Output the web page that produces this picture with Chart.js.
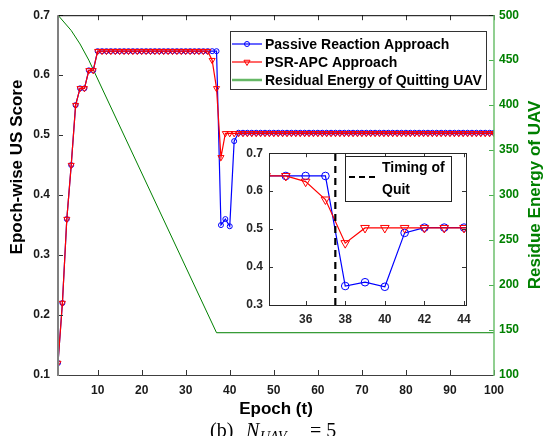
<!DOCTYPE html>
<html>
<head>
<meta charset="utf-8">
<script src="https://cdn.jsdelivr.net/npm/chart.js@4.4.1/dist/chart.umd.min.js"></script>
<style>
  html, body { margin: 0; padding: 0; background: #fff; }
  #wrap { position: relative; width: 544px; height: 436px; overflow: hidden; }
  #main { position: absolute; left: 0; top: 0; }
  #inset { position: absolute; left: 230px; top: 140px; }
</style>
</head>
<body>
<div id="wrap">
  <canvas id="main" width="544" height="436" style="width:544px;height:436px"></canvas>
  <canvas id="inset" width="250" height="190" style="width:250px;height:190px"></canvas>
</div>
<script>
// epochs and scores
const epochs = [
  1, 2, 3, 4, 5, 6, 7, 8, 9, 10,
  11, 12, 13, 14, 15, 16, 17, 18, 19, 20,
  21, 22, 23, 24, 25, 26, 27, 28, 29, 30,
  31, 32, 33, 34, 35, 36, 37, 38, 39, 40,
  41, 42, 43, 44, 45, 46, 47, 48, 49, 50,
  51, 52, 53, 54, 55, 56, 57, 58, 59, 60,
  61, 62, 63, 64, 65, 66, 67, 68, 69, 70,
  71, 72, 73, 74, 75, 76, 77, 78, 79, 80,
  81, 82, 83, 84, 85, 86, 87, 88, 89, 90,
  91, 92, 93, 94, 95, 96, 97, 98, 99, 100
];
const passive = [
  0.12, 0.22, 0.36, 0.45, 0.55, 0.578, 0.578, 0.608, 0.608, 0.64,
  0.64, 0.64, 0.64, 0.64, 0.64, 0.64, 0.64, 0.64, 0.64, 0.64,
  0.64, 0.64, 0.64, 0.64, 0.64, 0.64, 0.64, 0.64, 0.64, 0.64,
  0.64, 0.64, 0.64, 0.64, 0.64, 0.64, 0.64, 0.35, 0.36, 0.348,
  0.49, 0.504, 0.504, 0.504, 0.504, 0.504, 0.504, 0.504, 0.504, 0.504,
  0.504, 0.504, 0.504, 0.504, 0.504, 0.504, 0.504, 0.504, 0.504, 0.504,
  0.504, 0.504, 0.504, 0.504, 0.504, 0.504, 0.504, 0.504, 0.504, 0.504,
  0.504, 0.504, 0.504, 0.504, 0.504, 0.504, 0.504, 0.504, 0.504, 0.504,
  0.504, 0.504, 0.504, 0.504, 0.504, 0.504, 0.504, 0.504, 0.504, 0.504,
  0.504, 0.504, 0.504, 0.504, 0.504, 0.504, 0.504, 0.504, 0.504, 0.504
];
const psrApc = [
  0.12, 0.22, 0.36, 0.45, 0.55, 0.578, 0.578, 0.608, 0.608, 0.64,
  0.64, 0.64, 0.64, 0.64, 0.64, 0.64, 0.64, 0.64, 0.64, 0.64,
  0.64, 0.64, 0.64, 0.64, 0.64, 0.64, 0.64, 0.64, 0.64, 0.64,
  0.64, 0.64, 0.64, 0.64, 0.64, 0.625, 0.578, 0.463, 0.503, 0.503,
  0.503, 0.503, 0.503, 0.503, 0.503, 0.503, 0.503, 0.503, 0.503, 0.503,
  0.503, 0.503, 0.503, 0.503, 0.503, 0.503, 0.503, 0.503, 0.503, 0.503,
  0.503, 0.503, 0.503, 0.503, 0.503, 0.503, 0.503, 0.503, 0.503, 0.503,
  0.503, 0.503, 0.503, 0.503, 0.503, 0.503, 0.503, 0.503, 0.503, 0.503,
  0.503, 0.503, 0.503, 0.503, 0.503, 0.503, 0.503, 0.503, 0.503, 0.503,
  0.503, 0.503, 0.503, 0.503, 0.503, 0.503, 0.503, 0.503, 0.503, 0.503
];
// residual energy (breakpoints of the green line)
const energyEpochs = [1, 4, 6, 8, 37, 100];
const energyValues = [500, 483, 468, 450, 147, 147];
const quitEpoch = 37.5;

const xTicks = [10, 20, 30, 40, 50, 60, 70, 80, 90, 100];
const yTicks = [0.1, 0.2, 0.3, 0.4, 0.5, 0.6, 0.7];
const y2Ticks = [100, 150, 200, 250, 300, 350, 400, 450, 500];
const insetXTicks = [36, 38, 40, 42, 44];
const insetYTicks = [0.3, 0.4, 0.5, 0.6, 0.7];

const labels = ['Passive Reaction Approach', 'PSR-APC Approach', 'Residual Energy of Quitting UAV'];

Chart.defaults.font.family = "'Liberation Sans', Arial, sans-serif";
Chart.defaults.font.weight = 'bold';
Chart.defaults.font.size = 12;
Chart.defaults.color = '#1a1a1a';

const BLUE = '#0000ff', RED = '#ff0000', GREEN = '#008000';
const FONT = "bold 14px 'Liberation Sans', Arial, sans-serif";
const TITLE_FONT = "bold 17px 'Liberation Sans', Arial, sans-serif";

function pts(arr) {
  return arr.map((v, i) => ({ x: epochs[i], y: v }));
}
const energyPts = energyValues.map((v, i) => ({ x: energyEpochs[i], y: v }));

function setTicks(list) {
  return s => { s.ticks = list.map(v => ({ value: v })); };
}

function drawMarker(ctx, kind, x, y, r, color) {
  ctx.save();
  ctx.strokeStyle = color;
  ctx.lineWidth = 1;
  ctx.beginPath();
  if (kind === 'circle') {
    ctx.arc(x, y, r, 0, Math.PI * 2);
  } else {
    ctx.moveTo(x - r * 0.87, y - r * 0.5);
    ctx.lineTo(x + r * 0.87, y - r * 0.5);
    ctx.lineTo(x, y + r);
    ctx.closePath();
  }
  ctx.stroke();
  ctx.restore();
}

// inward ticks, axis lines, titles, legend, caption
const mainDecor = {
  id: 'mainDecor',
  afterDraw(chart) {
    const { ctx, chartArea: a, scales } = chart;
    const tl = 5;
    ctx.save();
    // x ticks (bottom and top)
    ctx.strokeStyle = '#333';
    ctx.lineWidth = 1;
    xTicks.forEach(v => {
      const px = Math.round(scales.x.getPixelForValue(v)) + 0.5;
      ctx.beginPath();
      ctx.moveTo(px, a.bottom); ctx.lineTo(px, a.bottom - tl);
      ctx.moveTo(px, a.top); ctx.lineTo(px, a.top + tl);
      ctx.stroke();
    });
    yTicks.forEach(v => {
      const py = Math.round(scales.y.getPixelForValue(v)) + 0.5;
      ctx.beginPath();
      ctx.moveTo(a.left, py); ctx.lineTo(a.left + tl, py);
      ctx.stroke();
    });
    ctx.strokeStyle = '#4caf50';
    y2Ticks.forEach(v => {
      const py = Math.round(scales.y2.getPixelForValue(v)) + 0.5;
      ctx.beginPath();
      ctx.moveTo(a.right, py); ctx.lineTo(a.right - tl, py);
      ctx.stroke();
    });
    // axis lines
    ctx.strokeStyle = '#000';
    ctx.lineWidth = 1;
    ctx.beginPath(); ctx.moveTo(a.left, a.top + 0.5); ctx.lineTo(a.right, a.top + 0.5); ctx.stroke();
    ctx.strokeStyle = '#404040';
    ctx.beginPath(); ctx.moveTo(a.left, a.bottom + 0.5); ctx.lineTo(a.right, a.bottom + 0.5); ctx.stroke();
    ctx.strokeStyle = '#808080';
    ctx.lineWidth = 2;
    ctx.beginPath(); ctx.moveTo(a.left, a.top); ctx.lineTo(a.left, a.bottom + 1); ctx.stroke();
    ctx.strokeStyle = '#6cbf6c';
    ctx.lineWidth = 1.5;
    ctx.beginPath(); ctx.moveTo(a.right, a.top); ctx.lineTo(a.right, a.bottom + 1); ctx.stroke();

    // axis titles
    ctx.font = TITLE_FONT;
    ctx.textAlign = 'center';
    ctx.textBaseline = 'middle';
    ctx.fillStyle = '#000';
    ctx.fillText('Epoch (t)', (a.left + a.right) / 2, 409);
    ctx.save();
    ctx.translate(17, 167);
    ctx.rotate(-Math.PI / 2);
    ctx.fillText('Epoch-wise US Score', 0, 0);
    ctx.restore();
    ctx.save();
    ctx.fillStyle = GREEN;
    ctx.translate(535, 195);
    ctx.rotate(-Math.PI / 2);
    ctx.fillText('Residue Energy of UAV', 0, 0);
    ctx.restore();

    // legend
    const lx = 230, ly = 31, lw = 256, lh = 58;
    ctx.fillStyle = '#fff';
    ctx.fillRect(lx, ly, lw, lh);
    ctx.strokeStyle = '#333';
    ctx.lineWidth = 1;
    ctx.strokeRect(lx + 0.5, ly + 0.5, lw, lh);
    const rows = [44, 62, 80];
    const cols = [BLUE, RED, '#66b866'];
    rows.forEach((ry, i) => {
      ctx.strokeStyle = cols[i];
      ctx.lineWidth = i === 2 ? 2.5 : 1.2;
      ctx.beginPath(); ctx.moveTo(232, ry); ctx.lineTo(262, ry); ctx.stroke();
      if (i === 0) drawMarker(ctx, 'circle', 247, ry, 2.5, BLUE);
      if (i === 1) drawMarker(ctx, 'tri', 247, ry, 3.5, RED);
      ctx.fillStyle = '#000';
      ctx.font = FONT;
      ctx.textAlign = 'left';
      ctx.textBaseline = 'middle';
      ctx.fillText(labels[i], 265, ry + 1);
    });

    // caption
    ctx.fillStyle = '#000';
    ctx.textAlign = 'left';
    ctx.textBaseline = 'alphabetic';
    ctx.font = "20px 'Liberation Serif', 'Times New Roman', serif";
    ctx.fillText('(b)', 210, 437);
    ctx.font = "italic 20px 'Liberation Serif', 'Times New Roman', serif";
    ctx.fillText('N', 246, 437);
    ctx.font = "italic 14px 'Liberation Serif', 'Times New Roman', serif";
    ctx.fillText('UAV', 260, 441);
    ctx.font = "20px 'Liberation Serif', 'Times New Roman', serif";
    ctx.fillText('= 5', 310, 437);
    ctx.restore();
  }
};

new Chart(document.getElementById('main'), {
  type: 'line',
  data: {
    datasets: [
      {
        label: labels[0], data: pts(passive), yAxisID: 'y',
        borderColor: BLUE, borderWidth: 1.2, tension: 0,
        pointStyle: 'circle', pointRadius: 2.5, pointBorderWidth: 1,
        pointBorderColor: BLUE, pointBackgroundColor: 'rgba(255,255,255,0)', order: 2
      },
      {
        label: labels[1], data: pts(psrApc), yAxisID: 'y',
        borderColor: RED, borderWidth: 1.2, tension: 0,
        pointStyle: 'triangle', pointRotation: 180, pointRadius: 3.5, pointBorderWidth: 1,
        pointBorderColor: RED, pointBackgroundColor: 'rgba(255,255,255,0)', order: 1
      },
      {
        label: labels[2], data: energyPts, yAxisID: 'y2',
        borderColor: GREEN, borderWidth: 1, pointRadius: 0, tension: 0, order: 3
      }
    ]
  },
  options: {
    responsive: false,
    animation: false,
    devicePixelRatio: 1,
    layout: { padding: { top: 14, left: 0, right: 0, bottom: 0 } },
    plugins: { legend: { display: false }, tooltip: { enabled: false } },
    scales: {
      x: {
        type: 'linear', min: 1, max: 100,
        afterBuildTicks: setTicks(xTicks),
        afterFit: s => { s.height = 61; },
        grid: { display: false, drawTicks: false },
        border: { display: false },
        ticks: { padding: 8, color: '#1a1a1a', font: { size: 12, weight: 'bold' } }
      },
      y: {
        position: 'left', min: 0.1, max: 0.7,
        afterBuildTicks: setTicks(yTicks),
        afterFit: s => { s.width = 58; },
        grid: { display: false, drawTicks: false },
        border: { display: false },
        ticks: { padding: 8, color: '#1a1a1a', callback: v => v.toFixed(1) }
      },
      y2: {
        position: 'right', min: 100, max: 500,
        afterBuildTicks: setTicks(y2Ticks),
        afterFit: s => { s.width = 50; },
        grid: { display: false, drawTicks: false },
        border: { display: false },
        ticks: { padding: 5, color: GREEN }
      }
    }
  },
  plugins: [mainDecor]
});

// ---- inset ----
const OX = 230, OY = 140;
const insetDecor = {
  id: 'insetDecor',
  beforeDatasetsDraw(chart) {
    const { ctx, chartArea: a } = chart;
    ctx.save();
    ctx.fillStyle = '#fff';
    ctx.fillRect(a.left, a.top, a.right - a.left, a.bottom - a.top);
    ctx.restore();
  },
  afterDraw(chart) {
    const { ctx, chartArea: a, scales } = chart;
    const tl = 4;
    ctx.save();
    ctx.strokeStyle = '#333';
    ctx.lineWidth = 1;
    insetXTicks.forEach(v => {
      const px = Math.round(scales.x.getPixelForValue(v)) + 0.5;
      ctx.beginPath();
      ctx.moveTo(px, a.bottom); ctx.lineTo(px, a.bottom - tl);
      ctx.moveTo(px, a.top); ctx.lineTo(px, a.top + tl);
      ctx.stroke();
    });
    insetYTicks.forEach(v => {
      const py = Math.round(scales.y.getPixelForValue(v)) + 0.5;
      ctx.beginPath();
      ctx.moveTo(a.left, py); ctx.lineTo(a.left + tl, py);
      ctx.moveTo(a.right, py); ctx.lineTo(a.right - tl, py);
      ctx.stroke();
    });
    ctx.strokeStyle = '#262626';
    ctx.strokeRect(Math.round(a.left) + 0.5, Math.round(a.top) + 0.5,
      Math.round(a.right - a.left), Math.round(a.bottom - a.top));

    // quit legend box (page coords minus offset)
    const bx = 345 - OX, by = 156 - OY, bw = 106, bh = 45;
    ctx.fillStyle = '#fff';
    ctx.fillRect(bx, by, bw, bh);
    ctx.strokeStyle = '#222';
    ctx.strokeRect(bx + 0.5, by + 0.5, bw, bh);
    ctx.strokeStyle = '#000';
    ctx.lineWidth = 2.2;
    ctx.setLineDash([6, 4]);
    ctx.beginPath(); ctx.moveTo(bx + 4, by + 21); ctx.lineTo(bx + 34, by + 21); ctx.stroke();
    ctx.setLineDash([]);
    ctx.fillStyle = '#000';
    ctx.font = FONT;
    ctx.textAlign = 'left';
    ctx.textBaseline = 'middle';
    ctx.fillText('Timing of', bx + 37, by + 12);
    ctx.fillText('Quit', bx + 37, by + 34);
    ctx.restore();
  }
};

new Chart(document.getElementById('inset'), {
  type: 'line',
  data: {
    datasets: [
      {
        data: pts(passive), borderColor: BLUE, borderWidth: 1.2, tension: 0,
        pointStyle: 'circle', pointRadius: 3.8, pointBorderWidth: 1,
        pointBorderColor: BLUE, pointBackgroundColor: 'rgba(255,255,255,0)', order: 2
      },
      {
        data: pts(psrApc), borderColor: RED, borderWidth: 1.2, tension: 0,
        pointStyle: 'triangle', pointRotation: 180, pointRadius: 5, pointBorderWidth: 1,
        pointBorderColor: RED, pointBackgroundColor: 'rgba(255,255,255,0)', order: 1
      },
      {
        data: [{ x: quitEpoch, y: 0.3 }, { x: quitEpoch, y: 0.7 }],
        borderColor: '#000', borderWidth: 2.2, borderDash: [7, 5], pointRadius: 0, order: 0
      }
    ]
  },
  options: {
    responsive: false,
    animation: false,
    devicePixelRatio: 1,
    layout: { padding: { top: 10, left: 0, right: 14, bottom: 0 } },
    plugins: { legend: { display: false }, tooltip: { enabled: false } },
    scales: {
      x: {
        type: 'linear', min: 34.15, max: 44.1,
        afterBuildTicks: setTicks(insetXTicks),
        afterFit: s => { s.height = 25; },
        grid: { display: false, drawTicks: false },
        border: { display: false },
        ticks: { padding: 7, color: '#262626' }
      },
      y: {
        min: 0.3, max: 0.7,
        afterBuildTicks: setTicks(insetYTicks),
        afterFit: s => { s.width = 39; },
        grid: { display: false, drawTicks: false },
        border: { display: false },
        ticks: { padding: 6, color: '#262626', callback: v => v.toFixed(1) }
      }
    }
  },
  plugins: [insetDecor]
});
</script>
</body>
</html>
